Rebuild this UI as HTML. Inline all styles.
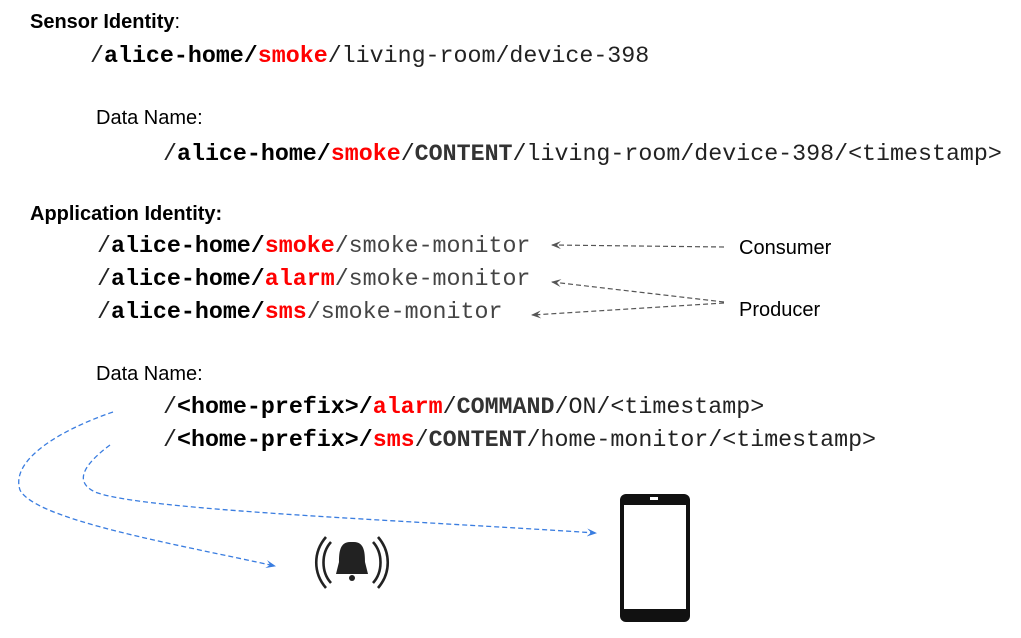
<!DOCTYPE html>
<html><head><meta charset="utf-8"><style>
html,body{margin:0;padding:0;background:#fff;}
svg{display:block}
.s{font-family:"Liberation Sans",sans-serif;font-size:20px;fill:#000}
.m{font-family:"Liberation Mono",monospace;font-size:23.3px;fill:#222}
.b{font-weight:bold;fill:#000}
.r{font-weight:bold;fill:#f00}
.g{fill:#444}
.d{font-weight:bold;fill:#333}
</style></head><body>
<svg width="1021" height="638" viewBox="0 0 1021 638" xmlns="http://www.w3.org/2000/svg">
<defs>
<marker id="ag" markerWidth="10" markerHeight="8" refX="9" refY="4" orient="auto" markerUnits="userSpaceOnUse"><path d="M0,0 L10,4 L0,8 L4,4Z" fill="#555"/></marker>
<marker id="ab" markerWidth="10" markerHeight="8" refX="9" refY="4" orient="auto" markerUnits="userSpaceOnUse"><path d="M0,0 L10,4 L0,8 L4,4Z" fill="#3a7de0"/></marker>
</defs>
<text class="s" x="30" y="28"><tspan font-weight="bold">Sensor Identity</tspan>:</text>
<text class="m" x="90" y="62">/<tspan class="b">alice-home/</tspan><tspan class="r">smoke</tspan>/living-room/device-398</text>
<text class="s" x="96" y="124">Data Name:</text>
<text class="m" x="163" y="160">/<tspan class="b">alice-home/</tspan><tspan class="r">smoke</tspan>/<tspan class="d">CONTENT</tspan>/living-room/device-398/&lt;timestamp&gt;</text>
<text class="s" x="30" y="220" font-weight="bold">Application Identity:</text>
<text class="m" x="97" y="252">/<tspan class="b">alice-home/</tspan><tspan class="r">smoke</tspan><tspan class="g">/smoke-monitor</tspan></text>
<text class="m" x="97" y="285">/<tspan class="b">alice-home/</tspan><tspan class="r">alarm</tspan><tspan class="g">/smoke-monitor</tspan></text>
<text class="m" x="97" y="318">/<tspan class="b">alice-home/</tspan><tspan class="r">sms</tspan><tspan class="g">/smoke-monitor</tspan></text>
<text class="s" x="739" y="254" fill="#222">Consumer</text>
<text class="s" x="739" y="316" fill="#222">Producer</text>
<g stroke="#555" stroke-width="1.2" stroke-dasharray="5,3" fill="none">
<path d="M724,247 L552,245" marker-end="url(#ag)"/>
<path d="M724,302 L552,282" marker-end="url(#ag)"/>
<path d="M724,303 L532,315" marker-end="url(#ag)"/>
</g>
<text class="s" x="96" y="380">Data Name:</text>
<text class="m" x="163" y="413">/<tspan class="b">&lt;home-prefix&gt;/</tspan><tspan class="r">alarm</tspan>/<tspan class="d">COMMAND</tspan>/ON/&lt;timestamp&gt;</text>
<text class="m" x="163" y="446">/<tspan class="b">&lt;home-prefix&gt;/</tspan><tspan class="r">sms</tspan>/<tspan class="d">CONTENT</tspan>/home-monitor/&lt;timestamp&gt;</text>
<g stroke="#3a7de0" stroke-width="1.3" stroke-dasharray="5,3" fill="none">
<path d="M113,412 C60,430 10,460 20,490 C35,520 180,545 275,566" marker-end="url(#ab)"/>
<path d="M110,445 C90,460 70,480 95,492 C140,510 400,520 596,533" marker-end="url(#ab)"/>
</g>
<g fill="#222">
<path d="M350,542 C340,542 339,552 339,562 L336,574 L368,574 L365,562 C365,552 364,542 354,542Z"/>
<circle cx="352" cy="578" r="3"/>
</g>
<g stroke="#222" stroke-width="2.6" fill="none">
<path d="M331,542 C321,553 321,572 331,583"/>
<path d="M326,537 C313,552 313,573 326,588"/>
<path d="M373,542 C383,553 383,572 373,583"/>
<path d="M378,537 C391,552 391,573 378,588"/>
</g>
<rect x="620" y="494" width="70" height="128" rx="6" fill="#111"/>
<rect x="624" y="505" width="62" height="104" fill="#fff"/>
<rect x="650" y="497" width="8" height="3" fill="#fff"/>
</svg>
</body></html>
